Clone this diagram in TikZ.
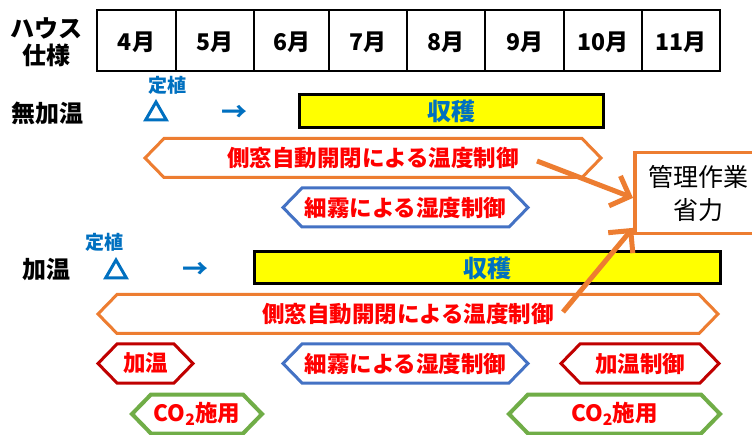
\documentclass[tikz,border=0pt]{standalone}
\usepackage{fontspec}
\setmainfont{Noto Sans CJK JP}
\usetikzlibrary{arrows.meta,calc,shapes.geometric}
\definecolor{cOrange}{HTML}{ED7D31}
\definecolor{cBlue}{HTML}{4472C4}
\definecolor{cDarkRed}{HTML}{C00000}
\definecolor{cGreen}{HTML}{70AD47}
\definecolor{cRed}{HTML}{FF0000}
\definecolor{cTextBlue}{HTML}{0070C0}
\definecolor{cYellow}{HTML}{FFFF00}
\tikzset{
  redtext/.style={text=cRed, font=\fontsize{22.5}{24}\selectfont\bfseries, inner sep=0pt},
  rowlabel/.style={font=\fontsize{24}{30}\selectfont\bfseries, inner sep=0pt, align=center},
  monthlabel/.style={font=\fontsize{23}{26}\selectfont\bfseries, inner sep=0pt},
  smallblue/.style={text=cTextBlue, font=\fontsize{19}{21}\selectfont\bfseries, inner sep=0pt},
  markblue/.style={text=cTextBlue, font=\fontsize{26}{28}\selectfont\bfseries, inner sep=0pt},
  trimark/.style={draw=cTextBlue, line width=3pt, regular polygon, regular polygon sides=3, minimum size=24pt, inner sep=0pt},
  harvestbox/.style={draw=black, fill=cYellow, line width=3pt},
  harvesttext/.style={text=cTextBlue, font=\fontsize{24}{26}\selectfont\bfseries, inner sep=0pt},
  bigarrow/.style={draw=cOrange, line width=5pt, -{Straight Barb[length=16pt,width=32pt]}},
}
% name, left tip x, right tip x, centre y, colour, line width, text
\newcommand\hexbox[7]{%
  \draw[draw=#5, line width=#6, line join=miter] (#2,#4) -- ({#2+19},{#4-19.5}) -- ({#3-19},{#4-19.5}) -- (#3,#4) -- ({#3-19},{#4+19.5}) -- ({#2+19},{#4+19.5}) -- cycle;
  \node[redtext] (#1) at ({(#2+#3)/2},#4) {#7};}
\begin{document}
\begin{tikzpicture}[x=1pt,y=-1pt]
\clip (0,0) rectangle (752,435);
\fill[white] (0,0) rectangle (752,435);
% table
\node[rowlabel] (house) at (46,42) {ハウス\\[-3pt]仕様};
\foreach \xa/\xb/\m [count=\i] in {97/176/4月,176/254/5月,254/329/6月,329/407/7月,407/485/8月,485/564/9月,564/642/10月,642/720/11月}{
  \draw[line width=2.5pt] (\xa,10) rectangle (\xb,71);
  \node[monthlabel] (m\i) at ({(\xa+\xb)/2},42) {\m};
}
% unheated row
\node[rowlabel] (unheated) at (47,113) {無加温};
\node[smallblue] (plant1) at (167,85) {定植};
\node[trimark] (tri1) at (156,114) {};
\node[markblue] (arr1) at (234,113) {→};
\draw[harvestbox] (299,95) rectangle (603,128);
\node[harvesttext] (harv1) at (451,111.5) {収穫};
\hexbox{win1}{145}{601}{158}{cOrange}{3pt}{側窓自動開閉による温度制御}
\hexbox{mist1}{283}{528}{207.5}{cBlue}{3pt}{細霧による湿度制御}
% management box
\node[draw=cOrange, line width=3.5pt, minimum width=128pt, minimum height=81pt, anchor=north west,
      align=center, font=\fontsize{25}{33}\selectfont, inner sep=0pt] (mgmt) at (633,151) {管理作業\\省力};
% heated row
\node[rowlabel] (heated) at (47,270) {加温};
\node[smallblue] (plant2) at (104,242) {定植};
\node[trimark] (tri2) at (116,272) {};
\node[markblue] (arr2) at (195,270) {→};
\draw[harvestbox] (254,252) rectangle (720,284);
\node[harvesttext] (harv2) at (487,268.5) {収穫};
\hexbox{win2}{98}{718}{314}{cOrange}{3pt}{側窓自動開閉による温度制御}
\hexbox{heat}{98}{193}{363.5}{cDarkRed}{3pt}{加温}
\hexbox{mist2}{283}{528}{363.5}{cBlue}{3pt}{細霧による湿度制御}
\hexbox{heatctl}{561}{719}{363.5}{cDarkRed}{3pt}{加温制御}
\hexbox{co2a}{132}{262}{414}{cGreen}{4pt}{CO\textsubscript{2}施用}
\hexbox{co2b}{509}{720}{414}{cGreen}{4pt}{CO\textsubscript{2}施用}
% arrows
\coordinate (s1) at (537,161);
\coordinate (s2) at (563,312);
\draw[bigarrow] (s1) -- ($(mgmt.north west)!0.555!(mgmt.south west)$);
\draw[bigarrow] (s2) -- ($(mgmt.north west)!0.91!(mgmt.south west)$);
\end{tikzpicture}
\end{document}
